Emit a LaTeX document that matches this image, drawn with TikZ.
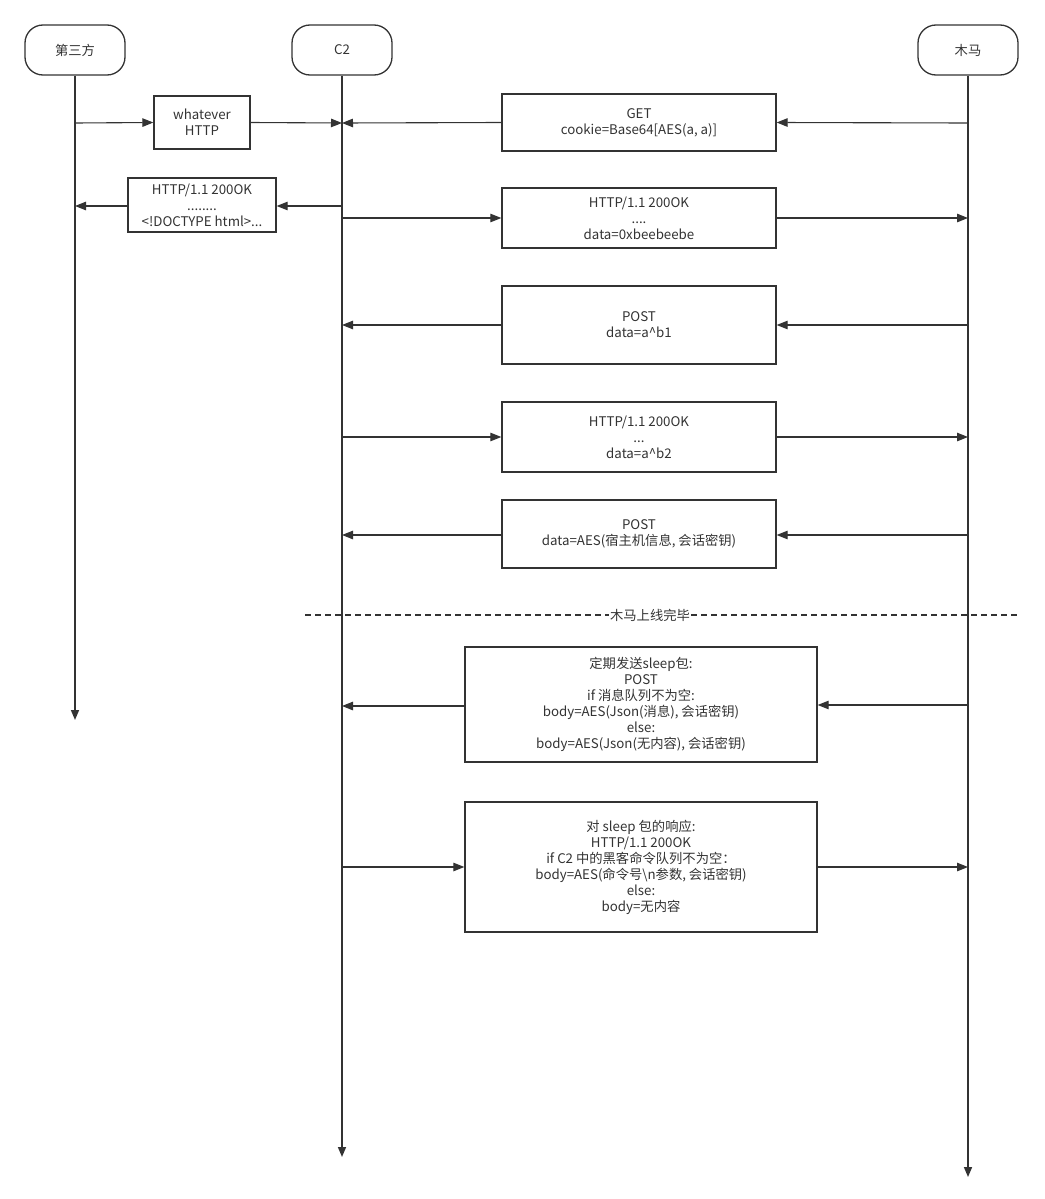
\documentclass[tikz,border=0pt]{standalone}
\usepackage{fontspec}
\setmainfont{Noto Sans CJK SC}
\usetikzlibrary{arrows.meta}
\definecolor{ink}{HTML}{333333}
\tikzset{
  actor/.style={draw=ink, line width=1.3pt, rounded corners=18pt, minimum width=100pt, minimum height=50pt, inner sep=0pt, text=ink, font=\fontsize{13.3}{16}\selectfont},
  msgbox/.style={draw=ink, line width=1.3pt, inner sep=0pt, align=center, text=ink, font=\fontsize{13.3}{16}\selectfont},
  life/.style={draw=ink, line width=1.6pt, -{Triangle[length=10pt,width=8pt]}},
  msg/.style={draw=ink, line width=1.1pt, -{Triangle[length=11pt,width=8.5pt]}},
}
\begin{document}
\begin{tikzpicture}[x=1pt,y=-1pt]
\useasboundingbox (0,0) rectangle (1044,1199);
% actors
\node[actor] (tp) at (75,50) {第三方};
\node[actor] (c2) at (342,50) {C2};
\node[actor] (mm) at (968,50) {木马};
\coordinate (tpend) at (75,720);
\coordinate (c2end) at (342,1157);
\coordinate (mmend) at (968,1177);
\draw[life] (tp.south) -- (tpend);
\draw[life] (c2.south) -- (c2end);
\draw[life] (mm.south) -- (mmend);

% 1 whatever HTTP
\node[msgbox, minimum width=96pt, minimum height=53pt] (b1) at (202,122.5) {whatever\\HTTP};
\coordinate (tp1) at (75,123);
\coordinate (c21) at (342,123);
\draw[msg] (tp1) -- (b1.west);
\draw[msg] (b1.east) -- (c21);

% 2 GET
\node[msgbox, minimum width=274pt, minimum height=57pt] (b2) at (639,122.5) {GET\\cookie=Base64[AES(a, a)]};
\coordinate (mm2) at (968,123);
\coordinate (c22) at (342,123);
\draw[msg] (mm2) -- (b2.east);
\draw[msg] (b2.west) -- (c22);

% 3 HTTP 200 to third party
\node[msgbox, minimum width=148pt, minimum height=54pt] (b3) at (202,205) {HTTP/1.1 200OK\\........\\<!DOCTYPE html>...};
\coordinate (c23) at (342,206);
\coordinate (tp3) at (75,206);
\draw[msg] (c23) -- (b3.east |- c23);
\draw[msg] (b3.west |- tp3) -- (tp3);

% 4 HTTP 200 to trojan
\node[msgbox, minimum width=274pt, minimum height=60pt] (b4) at (639,218) {HTTP/1.1 200OK\\....\\data=0xbeebeebe};
\coordinate (c24) at (342,218);
\coordinate (mm4) at (968,218);
\draw[msg] (c24) -- (b4.west);
\draw[msg] (b4.east) -- (mm4);

% 5 POST a^b1
\node[msgbox, minimum width=274pt, minimum height=78pt] (b5) at (639,325) {POST\\data=a\^{}b1};
\coordinate (mm5) at (968,325);
\coordinate (c25) at (342,325);
\draw[msg] (mm5) -- (b5.east);
\draw[msg] (b5.west) -- (c25);

% 6 HTTP a^b2
\node[msgbox, minimum width=274pt, minimum height=70pt] (b6) at (639,437) {HTTP/1.1 200OK\\...\\data=a\^{}b2};
\coordinate (c26) at (342,437);
\coordinate (mm6) at (968,437);
\draw[msg] (c26) -- (b6.west);
\draw[msg] (b6.east) -- (mm6);

% 7 POST host info
\node[msgbox, minimum width=274pt, minimum height=68pt] (b7) at (639,534) {POST\\data=AES(宿主机信息, 会话密钥)};
\coordinate (mm7) at (968,535);
\coordinate (c27) at (342,535);
\draw[msg] (mm7) -- (b7.east |- mm7);
\draw[msg] (b7.west |- c27) -- (c27);

% divider
\node[text=ink, font=\fontsize{13.3}{16}\selectfont, inner sep=1pt] (div) at (650,615) {木马上线完毕};
\coordinate (dl) at (305,615);
\coordinate (dr) at (1017,615);
\draw[ink, line width=1.1pt, dash pattern=on 6pt off 4pt] (dl) -- (div.west);
\draw[ink, line width=1.1pt, dash pattern=on 6pt off 4pt] (div.east) -- (dr);

% 9 sleep
\node[msgbox, minimum width=352pt, minimum height=115pt] (b9) at (641,704.5) {定期发送sleep包:\\POST\\if 消息队列不为空:\\body=AES(Json(消息), 会话密钥)\\else:\\body=AES(Json(无内容), 会话密钥)};
\coordinate (mm9) at (968,705);
\coordinate (c29) at (342,706);
\draw[msg] (mm9) -- (b9.east |- mm9);
\draw[msg] (b9.west |- c29) -- (c29);

% 10 response
\node[msgbox, minimum width=352pt, minimum height=130pt] (b10) at (641,867) {对 sleep 包的响应:\\HTTP/1.1 200OK\\if C2 中的黑客命令队列不为空：\\body=AES(命令号\textbackslash n参数, 会话密钥)\\else:\\body=无内容};
\coordinate (c210) at (342,867);
\coordinate (mm10) at (968,867);
\draw[msg] (c210) -- (b10.west);
\draw[msg] (b10.east) -- (mm10);
\end{tikzpicture}
\end{document}
